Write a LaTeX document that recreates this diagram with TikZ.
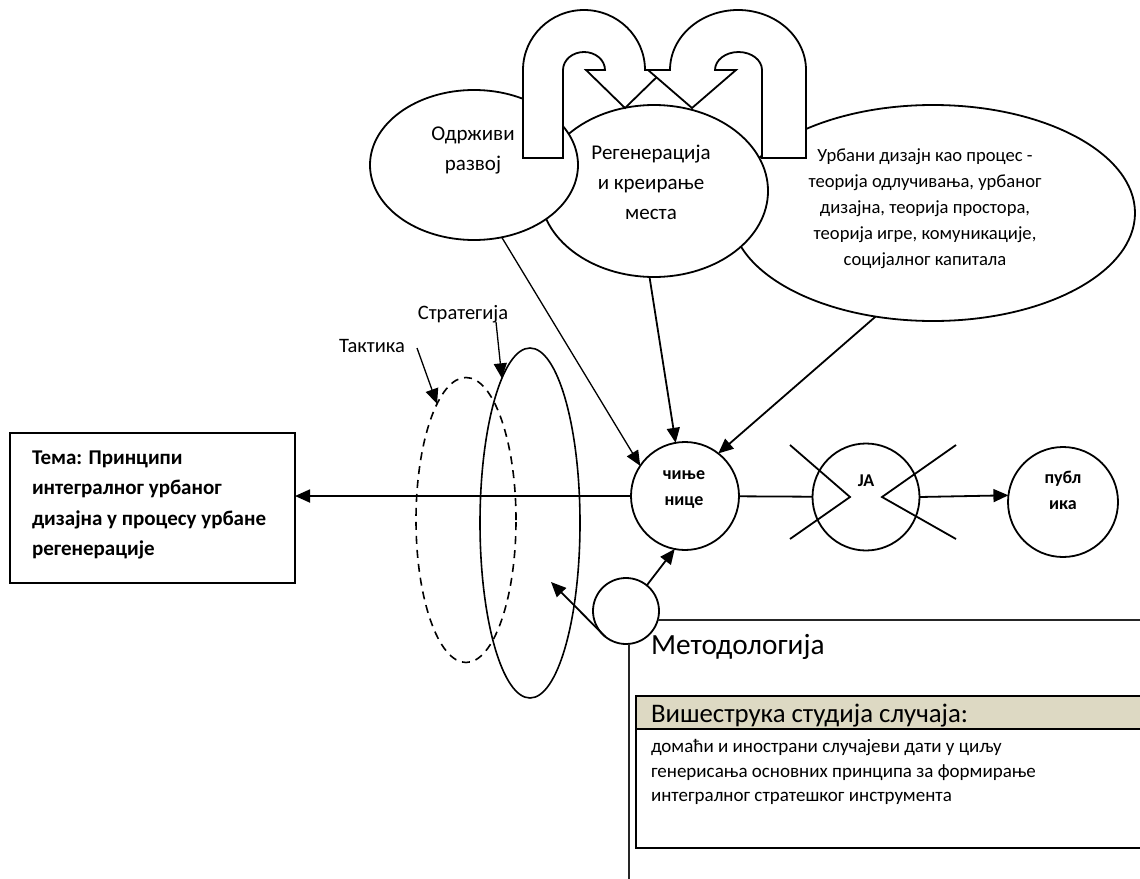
\documentclass[tikz,border=0pt]{standalone}
\usepackage{fontspec}
\setmainfont{Carlito}
\usetikzlibrary{arrows.meta,shapes.geometric}
\begin{document}
\begin{tikzpicture}[x=1pt,y=1pt,
  every node/.style={inner sep=0pt,outer sep=0pt},
  ln/.style={line width=1.8pt},
  thin line/.style={line width=1.3pt},
  arr/.style={-{Triangle[length=15pt,width=13pt]}},
  ell/.style={ellipse,draw,line width=1.8pt,fill=white},
  circ/.style={circle,draw,line width=1.8pt,fill=white},
  uarrow/.style={draw,line width=1.8pt,fill=white,line join=miter},
  bigtxt/.style={align=center,font=\fontsize{21}{30}\selectfont},
  midtxt/.style={align=center,font=\fontsize{18.6}{26}\selectfont},
  circtxt/.style={align=center,font=\fontsize{18}{26}\selectfont\bfseries},
  labtxt/.style={font=\fontsize{20.5}{24}\selectfont},
]
\useasboundingbox (0,0) rectangle (1140,-878);
\clip (0,0) rectangle (1140,-878);

% top ellipses
\node[ell,minimum width=404,minimum height=216] (urb) at (933,-213) {};
\node[ell,minimum width=228,minimum height=172] (reg) at (654,-191) {};
\node[ell,minimum width=208,minimum height=150] (odr) at (474,-165) {};

% U-turn arrows
\path[uarrow] (523,-158) -- (523,-70)
  arc[start angle=180,end angle=0,x radius=61,y radius=60]
  -- (664,-70) -- (625,-108) -- (586,-70) -- (605,-70)
  arc[start angle=0,end angle=180,x radius=21,y radius=18]
  -- (563,-158) -- cycle;
\path[uarrow] (806,-158) -- (806,-70)
  arc[start angle=0,end angle=180,x radius=68,y radius=60]
  -- (648,-70) -- (692,-108) -- (736,-70) -- (715,-70)
  arc[start angle=180,end angle=0,x radius=23.5,y radius=18]
  -- (762,-158) -- cycle;

\node[bigtxt] (odrT) at (473,-150) {Одрживи\\развој};
\node[bigtxt] (regT) at (651,-182) {Регенерација\\и креирање\\места};
\node[midtxt] (urbT) at (925,-209) {Урбани дизајн као процес -\\теорија одлучивања, урбаног\\дизајна, теорија простора,\\теорија игре, комуникације,\\социјалног капитала};

% left box
\node[draw,line width=1.8pt,minimum width=285,minimum height=150] (tema) at (152.5,-508) {};
\node[anchor=west,align=left,font=\fontsize{21}{30.3}\selectfont\bfseries] (temaT) at (32,-505)
  {Тема: Принципи\\интегралног урбаног\\дизајна у процесу урбане\\регенерације};

% strategy / tactics ellipses
\node[ellipse,draw,line width=1.6pt,dash pattern=on 8pt off 6pt,minimum width=100,minimum height=285] (dash) at (466,-520) {};
\node[ellipse,draw,line width=1.6pt,minimum width=100,minimum height=350] (strat) at (530,-523) {};
\node[labtxt] (taktL) at (372,-346) {Тактика};
\node[labtxt] (stratL) at (463,-314) {Стратегија};
\coordinate (taktS) at (417,-348);
\coordinate (stratS) at (496,-322);
\draw[thin line,arr] (taktS) -- (dash.104);
\draw[thin line,arr] (stratS) -- (strat.101);

% circles
\node[circ,minimum size=108] (cin) at (685,-496) {};
\node[circtxt] at (684,-490) {чиње\\нице};
\node[circ,minimum size=107] (ja) at (866,-497) {};
\node[circtxt] at (866,-481) {JA};
\node[circ,minimum size=110] (pub) at (1063,-502) {};
\node[circtxt] at (1063,-490) {публ\\ика};
\node[circ,minimum size=66] (sm) at (626,-611) {};

% X marks on JA
\draw[ln] ([shift={(-76,52)}]ja.center) -- ([shift={(-16,0)}]ja.center) -- ([shift={(-76,-42)}]ja.center);
\draw[ln] ([shift={(90,52)}]ja.center) -- ([shift={(16,0)}]ja.center) -- ([shift={(90,-42)}]ja.center);

% connectors
\draw[thin line,arr] (odr.-69) -- (cin.146);
\draw[ln,arr] (reg.-93) -- (cin.100);
\draw[ln,arr] (urb.-119) -- (cin.52);
\draw[ln,arr] (cin.west) -- (cin.west -| tema.east);
\draw[ln] (cin) -- (ja);
\draw[ln,arr] (ja.east) -- (pub.173);
\draw[ln,arr] (sm.51) -- (cin.-101);
\coordinate (smT) at (551,-582);
\draw[ln,arr] (sm.-129) -- (smT);

% methodology
\coordinate (mR) at (1145,-620);
\coordinate (mB) at (629,-880);
\draw[line width=1.5pt,black!85] (sm.-16) -- (sm.-16 -| mR);
\draw[line width=1.5pt,black!85] (sm.-85) -- (sm.-85 |- mB);
\node[anchor=west,font=\fontsize{29.3}{34}\selectfont] (meth) at (651,-647) {Методологија};
\definecolor{tan}{RGB}{221,217,195}
\fill[tan] (636,-696) rectangle (1150,-729);
\draw[line width=2pt] (1150,-696) -- (636,-696) -- (636,-848) -- (1150,-848);
\draw[line width=1.8pt] (636,-729) -- (1150,-729);
\node[anchor=west,font=\fontsize{26.8}{30}\selectfont] (case) at (651,-716) {Вишеструка студија случаја:};
\node[anchor=west,align=left,font=\fontsize{19}{24.5}\selectfont] (caseT) at (651,-772)
  {домаћи и инострани случајеви дати у циљу\\генерисања основних принципа за формирање\\интегралног стратешког инструмента};
\end{tikzpicture}
\end{document}
